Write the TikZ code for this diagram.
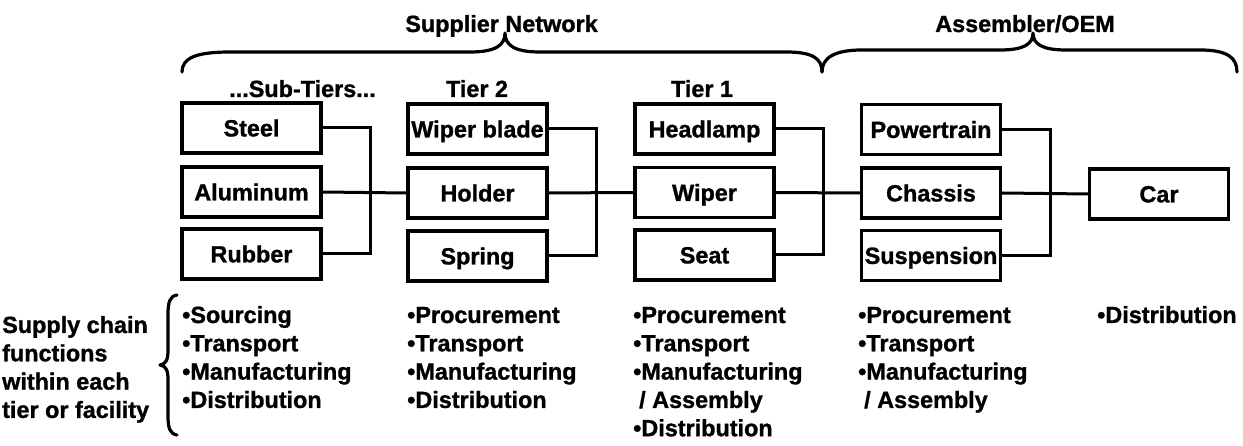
\documentclass[tikz,border=0pt]{standalone}
\usepackage{fontspec}
\setmainfont{Liberation Sans}[BoldFeatures={FakeBold=1.2}]
\usetikzlibrary{calc}

\begin{document}
\begin{tikzpicture}[x=1pt,y=-1pt,
  lbl/.style={font=\fontsize{23.4}{28.3}\selectfont\bfseries, inner sep=0pt},
  part/.style={lbl, draw, line width=3.2pt, minimum width=139pt,
    minimum height=50pt, text height=16.8pt, text depth=0pt},
  link/.style={line width=3pt},
  brace/.style={line width=3.2pt, line cap=round, line join=round}]

\useasboundingbox (0,0) rectangle (1243,446);

% component boxes, one column per tier
\node[part] (steel)  at (251.5,128)   {Steel};
\node[part] (alum)   at (251.5,192)   {Aluminum};
\node[part] (rubber) at (251.5,254)   {Rubber};

\node[part] (blade)  at (477.5,129)   {Wiper blade};
\node[part] (holder) at (477.5,193)   {Holder};
\node[part] (spring) at (477.5,256)   {Spring};

\node[part] (lamp)   at (704.5,129)   {Headlamp};
\node[part] (wiper)  at (704.5,192.5) {Wiper};
\node[part] (seat)   at (704.5,255)   {Seat};

\node[part] (power)  at (931,129.5)   {Powertrain};
\node[part] (chassis)at (931,193)     {Chassis};
\node[part] (susp)   at (931,255.5)   {Suspension};

\node[part] (car)    at (1159,194)    {Car};

% feeders: top and bottom boxes join the middle line, which runs on
\foreach \a/\b/\c/\n in {steel/alum/rubber/holder, blade/holder/spring/wiper,
                         lamp/wiper/seat/chassis, power/chassis/susp/car} {
  \draw[link] (\a.east) -- ++(48,0) coordinate (j-\b) |- (\c.east);
  \draw[link] (\b.east) -- (\n.west);
}

% headings
\node[lbl, anchor=base] (hsup) at (501.5,32) {Supplier Network};
\node[lbl, anchor=base] (hoem) at (1025,32)  {Assembler/OEM};
\node[lbl, anchor=base] (hsub) at (302.5,97) {...Sub-Tiers...};
\node[lbl, anchor=base] (ht2)  at (477,97)   {Tier 2};
\node[lbl, anchor=base] (ht1)  at (702,97)   {Tier 1};

% braces over the two groups
\draw[brace] (182,72) .. controls (182,58) and (196,52) .. (230,52)
  -- (470,52) .. controls (496,52) and (505,45) .. (505,33)
  .. controls (505,45) and (514,52) .. (540,52)
  -- (786,52) .. controls (812,52) and (822,58) .. (822,72);
\draw[brace] (822,72) .. controls (822,58) and (834,50) .. (862,50)
  -- (1000,50) .. controls (1024,50) and (1033,44) .. (1033,33)
  .. controls (1033,44) and (1042,50) .. (1066,50)
  -- (1200,50) .. controls (1228,50) and (1237,58) .. (1237,72);

% functions legend
\foreach \t [count=\i] in {Supply chain, functions, within each, tier or facility}
  \node[lbl, anchor=base west] (lg-\i) at (2,{333+28.3*(\i-1)}) {\t};
\draw[brace] (177,295) .. controls (170,296) and (168,302) .. (168,314)
  -- (168,350) .. controls (168,360) and (166,364) .. (160,365)
  .. controls (166,366) and (168,370) .. (168,380)
  -- (168,416) .. controls (168,428) and (170,434) .. (177,435);

\foreach \t [count=\i] in {{•Sourcing}, {•Transport}, {•Manufacturing}, {•Distribution}}
  \node[lbl, anchor=base west] (fa-\i) at (182,{323+28.3*(\i-1)}) {\t};
\foreach \t [count=\i] in {{•Procurement}, {•Transport}, {•Manufacturing}, {•Distribution}}
  \node[lbl, anchor=base west] (fb-\i) at (407,{323+28.3*(\i-1)}) {\t};
\foreach \t [count=\i] in {{•Procurement}, {•Transport}, {•Manufacturing},
                           {\hspace*{6pt}/ Assembly}, {•Distribution}}
  \node[lbl, anchor=base west] (fc-\i) at (633,{323+28.3*(\i-1)}) {\t};
\foreach \t [count=\i] in {{•Procurement}, {•Transport}, {•Manufacturing},
                           {\hspace*{6pt}/ Assembly}}
  \node[lbl, anchor=base west] (fd-\i) at (858,{323+28.3*(\i-1)}) {\t};
\node[lbl, anchor=base west] (fe-1) at (1097,323) {•Distribution};

\end{tikzpicture}
\end{document}
